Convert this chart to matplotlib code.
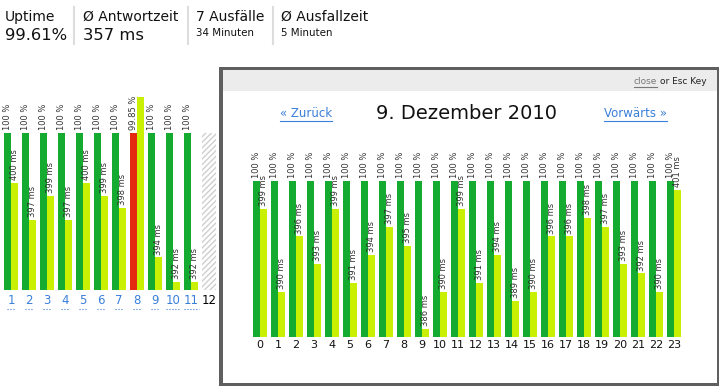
import numpy as np
import matplotlib
matplotlib.use('Agg')
import matplotlib.pyplot as plt
from matplotlib.patches import Rectangle
from matplotlib.lines import Line2D

# data: daily overview (December 2010)
days = list(range(1, 13))
day_uptime = [100, 100, 100, 100, 100, 100, 100, 99.85, 100, 100, 100]
day_ms = [400, 397, 399, 397, 400, 399, 398, 407, 394, 392, 392]

# data: hourly detail for 9 December
hours = list(range(24))
hour_uptime = [100] * 24
hour_ms = [399, 390, 396, 393, 399, 391, 394, 397, 395, 386, 390, 399,
           391, 394, 389, 390, 396, 396, 398, 397, 393, 392, 390, 401]

summary_titles = ['Uptime', 'Ø Antwortzeit', '7 Ausfälle', 'Ø Ausfallzeit']
summary_values = ['99.61%', '357 ms', '34 Minuten', '5 Minuten']

GREEN = '#14ab30'
LIME = '#c8f000'
RED = '#e3290f'
LINK = '#3a7fd9'
LABEL = '#333333'

W, H = 720, 388
plt.rcParams['font.family'] = ['DejaVu Sans']
fig = plt.figure(figsize=(W / 100, H / 100), dpi=100)


def fx(x):
    return x / W


def fy(y):
    return 1 - y / H


def px_axes(x0, y0, x1, y1):
    ax = fig.add_axes([fx(x0), fy(y1), (x1 - x0) / W, (y1 - y0) / H])
    ax.set_facecolor('none')
    return ax


def clean(ax):
    for s in ax.spines.values():
        s.set_visible(False)
    ax.set_yticks([])
    ax.tick_params(length=0)


def bar_chart(ax, x, uptime, ms, ms_lim, up_colors):
    ax2 = ax.twinx()
    ax2.set_facecolor('none')
    x = np.array(x, dtype=float)
    g = ax.bar(x - 0.19, uptime, width=0.39, color=up_colors, clip_on=False, zorder=2)
    y = ax2.bar(x + 0.19, np.array(ms) - ms_lim[0], bottom=ms_lim[0], width=0.37,
                color=LIME, clip_on=False, zorder=2)
    ax.set_ylim(0, 100)
    ax2.set_ylim(*ms_lim)
    for rect, v in zip(g, uptime):
        ax.annotate('%g %%' % v, (rect.get_x() + rect.get_width() / 2, rect.get_height()),
                    xytext=(-0.3, 2), textcoords='offset points', rotation=90,
                    ha='center', va='bottom', fontsize=6, color=LABEL)
    for rect, v in zip(y, ms):
        ax2.annotate('%d ms' % v, (rect.get_x() + rect.get_width() / 2, v),
                     xytext=(0.3, 2), textcoords='offset points', rotation=90,
                     ha='center', va='bottom', fontsize=6, color=LABEL)
    clean(ax)
    clean(ax2)
    return ax2


# header summary
title_x = [5, 83, 196, 281]
for i, (t, v) in enumerate(zip(summary_titles, summary_values)):
    fig.text(fx(title_x[i]), fy(17), t, fontsize=10, va='center', ha='left', color='#111111')
    big = i < 2
    fig.text(fx(title_x[i]), fy(36 if big else 33), v, fontsize=11.8 if big else 7.4,
             va='center', ha='left', color='#111111')
for sx in [74, 188, 273]:
    fig.add_artist(Line2D([fx(sx), fx(sx)], [fy(7), fy(44)], color='#dddddd', lw=1.5))

# left: daily chart
axl = px_axes(0, 133, 220, 290)
axl.set_xlim(1 - 11 / 18, 1 - 11 / 18 + 220 / 18)
day_colors = [RED if u < 100 else GREEN for u in day_uptime]
bar_chart(axl, days[:-1], day_uptime, day_ms, (391.35, 404.07), day_colors)
axl.bar(days[-1], 100, width=0.83, color='white', edgecolor='#cfcfcf',
        hatch='//////', lw=0, zorder=1)
axl.set_xticks(days)
axl.set_xticklabels([str(d) for d in days], fontsize=8.5)
axl.tick_params(axis='x', pad=3)
for lab in axl.get_xticklabels()[:-1]:
    lab.set_color(LINK)

# modal window
fig.add_artist(Rectangle((fx(219), fy(386)), 500 / W, 319 / H, transform=fig.transFigure,
                         facecolor='#5f5f5f', edgecolor='none', zorder=-3))
fig.add_artist(Rectangle((fx(223), fy(383)), 494 / W, 313 / H, transform=fig.transFigure,
                         facecolor='white', edgecolor='none', zorder=-2))
fig.add_artist(Rectangle((fx(223), fy(91)), 494 / W, 21 / H, transform=fig.transFigure,
                         facecolor='#ececec', edgecolor='none', zorder=-1))
t_esc = fig.text(fx(707), fy(81), 'or Esc Key', fontsize=6.5, ha='right', va='center',
                 color='#222222')
t_close = fig.text(fx(685), fy(81), 'close', fontsize=6.5, ha='right', va='center',
                   color='#777777')
fig.text(fx(467), fy(113), '9. Dezember 2010', fontsize=14, ha='center', va='center',
         color='#111111')
t_back = fig.text(fx(306), fy(113), '« Zurück', fontsize=8.5, ha='center', va='center',
                  color=LINK)
t_fwd = fig.text(fx(635), fy(113), 'Vorwärts »', fontsize=8.5, ha='center', va='center',
                 color=LINK)

# right: hourly chart
axr = px_axes(224, 181, 716, 337)
axr.set_xlim(-36 / 18, -36 / 18 + 492 / 18)
bar_chart(axr, hours, hour_uptime, hour_ms, (385.14, 401.97), GREEN)
axr.set_xticks(hours)
axr.set_xticklabels([str(h) for h in hours], fontsize=8, color='#111111')
axr.tick_params(axis='x', pad=2)

# underlines for links
fig.canvas.draw()
r = fig.canvas.get_renderer()


def underline(t, ls='-', color=None, off=1.5):
    bb = t.get_window_extent(r)
    yy = (bb.y0 - off) / fig.bbox.height
    fig.add_artist(Line2D([bb.x0 / fig.bbox.width, bb.x1 / fig.bbox.width], [yy, yy],
                          color=color or t.get_color(), lw=0.8, ls=ls))


bb_esc = t_esc.get_window_extent(r)
t_close.set_x((bb_esc.x0 - 3) / fig.bbox.width)
fig.canvas.draw()
underline(t_close)
underline(t_back)
underline(t_fwd)
for lab in axl.get_xticklabels()[:-1]:
    underline(lab, ls=':', off=2)

fig.savefig('out.png', dpi=100)
